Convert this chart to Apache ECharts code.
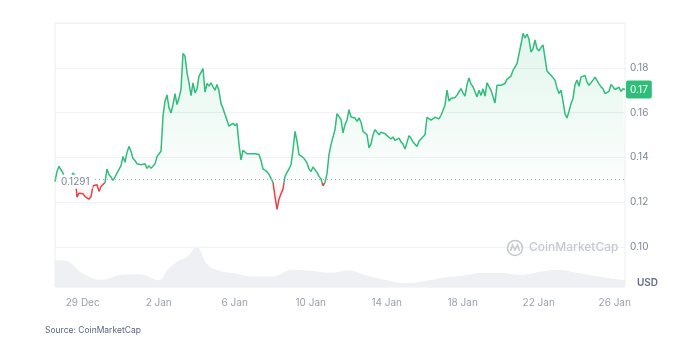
<!DOCTYPE html>
<html>
<head>
<meta charset="utf-8">
<script src="https://cdn.jsdelivr.net/npm/echarts@6/dist/echarts.min.js"></script>
<style>
  html, body { margin: 0; padding: 0; background: #fff; }
  #chart { width: 687px; height: 352px; }
</style>
</head>
<body>
<div id="chart"></div>
<script>
// price, one sample every ~2.5 hours from 27 Dec 13:00 to 26 Jan 13:00
var startDay = -1.458;   // days counted from 29 Dec 00:00
var spanDays = 30;
var prices = [
  0.1292,0.1337,0.1360,0.1357,0.1330,0.1300,0.1285,0.1290,0.1310,0.1330,
  0.1320,0.1222,0.1240,0.1243,0.1237,0.1225,0.1228,0.1213,0.1225,0.1273,
  0.1270,0.1278,0.1248,0.1270,0.1267,0.1288,0.1348,0.1322,0.1312,0.1297,
  0.1312,0.1330,0.1333,0.1363,0.1404,0.1378,0.1422,0.1449,0.1427,0.1395,
  0.1386,0.1371,0.1371,0.1367,0.1360,0.1371,0.1351,0.1363,0.1351,0.1360,
  0.1371,0.1404,0.1407,0.1427,0.1584,0.1651,0.1679,0.1621,0.1598,0.1636,
  0.1684,0.1636,0.1666,0.1703,0.1864,0.1852,0.1778,0.1733,0.1676,0.1733,
  0.1688,0.1706,0.1763,0.1763,0.1796,0.1691,0.1730,0.1718,0.1733,0.1715,
  0.1700,0.1725,0.1696,0.1640,0.1619,0.1591,0.1566,0.1539,0.1542,0.1552,
  0.1542,0.1551,0.1457,0.1389,0.1431,0.1425,0.1416,0.1412,0.1416,0.1410,
  0.1416,0.1422,0.1413,0.1386,0.1348,0.1345,0.1336,0.1324,0.1324,0.1288,
  0.1225,0.1168,0.1213,0.1237,0.1258,0.1315,0.1333,0.1348,0.1367,0.1434,
  0.1516,0.1472,0.1412,0.1412,0.1400,0.1389,0.1375,0.1348,0.1337,0.1357,
  0.1360,0.1333,0.1315,0.1303,0.1273,0.1288,0.1327,0.1412,0.1457,0.1491,
  0.1524,0.1595,0.1598,
  0.1569,0.1509,0.1546,0.1566,0.1613,0.1580,0.1584,0.1576,0.1561,0.1576,
  0.1557,0.1516,0.1521,0.1501,0.1442,0.1460,0.1500,0.1524,0.1516,0.1501,
  0.1512,0.1509,0.1506,0.1497,0.1491,0.1482,0.1491,0.1476,0.1482,0.1486,
  0.1469,0.1460,0.1437,0.1467,0.1497,0.1485,0.1469,0.1467,0.1449,0.1472,
  0.1482,0.1475,0.1501,0.1579,0.1576,0.1566,0.1573,0.1579,0.1575,0.1572,
  0.1588,0.1610,0.1633,0.1700,0.1651,0.1663,0.1657,0.1667,0.1678,0.1693,
  0.1707,0.1688,0.1673,0.1725,0.1754,0.1727,0.1715,0.1722,0.1670,0.1700,
  0.1676,0.1706,0.1673,0.1733,0.1731,0.1700,0.1695,0.1643,0.1722,0.1721,
  0.1722,0.1722,0.1730,0.1748,0.1745,0.1763,0.1788,0.1804,0.1819,0.1818,
  0.1905,0.1954,0.1933,0.1951,0.1927,0.1870,0.1885,0.1924,0.1885,0.1875,
  0.1890,0.1902,0.1897,0.1785,0.1781,0.1767,0.1760,0.1745,0.1710,0.1685,
  0.1700,0.1651,0.1594,0.1576,0.1606,0.1640,0.1663,0.1725,0.1745,0.1718,
  0.1758,0.1751,0.1766,0.1736,0.1722,0.1728,0.1745,0.1758,0.1763,0.1728,
  0.1715,0.1706,0.1685,0.1678,0.1695,0.1725,0.1715,0.1703,0.1710,0.1713,
  0.1695,0.1706,0.1703
];
var basePrice = 0.1291;
var lastPrice = 0.1703;

// traded volume (millions USD)
var volDays = [-1.458,-1,0,1,2,3,4,4.5,5,5.5,6,6.5,7,8,9,10,11,12,13,14,15,16,17,18,19,20,21,22,23,24,25,26,27,28,28.542];
var volumes = [70,71,36,19,32,34,18,48,68,80,106,64,46,36,28,28,46,43,38,44,30,18,10,15,25,30,37,37,32,40,45,38,29,21,18];

var xTickDays = [0,4,8,12,16,20,24,28];
var xTickLabels = ['29 Dec','2 Jan','6 Jan','10 Jan','14 Jan','18 Jan','22 Jan','26 Jan'];

var upColor = '#2fbd7c';
var downColor = '#e5424a';

var priceData = prices.map(function (p, i) {
  return [startDay + i * spanDays / (prices.length - 1), p];
});
var volData = volDays.map(function (d, i) { return [d, volumes[i]]; });

// green above the opening price, red below (gradient over the line's own box)
var pMax = Math.max.apply(null, prices);
var pMin = Math.min.apply(null, prices);
var split = (pMax - basePrice) / (pMax - pMin);

var myChart = echarts.init(document.getElementById('chart'));
var option = {
  backgroundColor: '#fff',
  animation: false,
  grid: {
    left: 55, right: 62, top: 23, bottom: 65,
    show: true, borderColor: '#eceef2', borderWidth: 1
  },
  xAxis: {
    type: 'value',
    min: startDay,
    max: startDay + spanDays,
    axisLine: { show: false },
    axisTick: { show: false },
    splitLine: { show: false },
    axisLabel: {
      customValues: xTickDays,
      formatter: function (v) { return xTickLabels[xTickDays.indexOf(v)]; },
      color: '#9aa1ae',
      fontSize: 10,
      fontFamily: 'Inter',
      margin: 11
    }
  },
  yAxis: [
    {
      type: 'value',
      position: 'right',
      min: 0.0821,
      max: 0.20,
      axisLine: { show: false },
      axisTick: { show: false },
      axisLabel: {
        showMinLabel: false,
        showMaxLabel: false,
        formatter: function (v) { return v.toFixed(2); },
        color: '#7e8796',
        fontSize: 10,
        fontFamily: 'Inter',
        margin: 5
      },
      splitLine: { showMinLine: false, lineStyle: { color: '#f0f2f5' } }
    },
    {
      type: 'value',
      min: 0,
      max: 701,
      show: false,
      splitLine: { show: false }
    }
  ],
  series: [
    {
      type: 'line',
      data: priceData,
      showSymbol: false,
      z: 3,
      lineStyle: {
        width: 1.5,
        color: new echarts.graphic.LinearGradient(0, 0, 0, 1, [
          { offset: 0, color: upColor },
          { offset: split, color: upColor },
          { offset: split, color: downColor },
          { offset: 1, color: downColor }
        ])
      },
      areaStyle: {
        origin: basePrice,
        color: new echarts.graphic.LinearGradient(0, 0, 0, 1, [
          { offset: 0, color: 'rgba(47,189,124,0.20)' },
          { offset: split, color: 'rgba(47,189,124,0.02)' },
          { offset: split, color: 'rgba(229,66,74,0.04)' },
          { offset: 1, color: 'rgba(229,66,74,0.14)' }
        ])
      },
      markLine: {
        silent: true,
        symbol: ['none', 'none'],
        animation: false,
        label: { show: false },
        data: [
          { yAxis: basePrice, lineStyle: { color: '#a9b0bc', type: [1, 3], width: 1 } }
        ]
      }
    },
    {
      type: 'line',
      yAxisIndex: 1,
      data: volData,
      smooth: 0.4,
      showSymbol: false,
      silent: true,
      z: 1,
      lineStyle: { width: 0 },
      itemStyle: { color: '#eef0f4' },
      areaStyle: { color: '#eef0f4', opacity: 1 }
    }
  ],
  graphic: [
    {
      id: 'logoRing',
      type: 'circle',
      shape: { cx: 515, cy: 248, r: 7.5 },
      style: { fill: 'none', stroke: '#c4c9d2', lineWidth: 1.6 },
      z: 10
    },
    {
      id: 'logoM',
      type: 'polyline',
      shape: { points: [[510.5, 251], [512.5, 245], [515, 250], [517.5, 245], [519.5, 251]] },
      style: { fill: 'none', stroke: '#c4c9d2', lineWidth: 1.6 },
      z: 10
    },
    {
      id: 'logoText',
      type: 'text',
      left: 529, top: 241,
      style: { text: 'CoinMarketCap', fill: '#c4c9d2', font: '500 12px Inter' },
      z: 10
    },
    {
      id: 'unit',
      type: 'text',
      left: 637, top: 278,
      style: { text: 'USD', fill: '#616e85', font: '600 10px Inter' }
    },
    {
      id: 'source',
      type: 'text',
      left: 45, top: 326,
      style: { text: 'Source: CoinMarketCap', fill: '#58667e', font: '8.5px Inter' }
    }
  ]
};
myChart.setOption(option);

// price tags: opening price on the left, latest price on the right axis
var baseY = myChart.convertToPixel({ yAxisIndex: 0 }, basePrice);
var lastY = myChart.convertToPixel({ yAxisIndex: 0 }, lastPrice);
myChart.setOption({
  graphic: [
    {
      id: 'baseTag',
      type: 'text',
      x: 58, y: baseY,
      z: 50,
      style: {
        text: '0.1291', fill: '#7e8796', font: '10px Inter',
        verticalAlign: 'middle', backgroundColor: '#fff', padding: [2, 3]
      }
    },
    {
      id: 'lastTag',
      type: 'text',
      x: 626, y: lastY,
      z: 50,
      style: {
        text: '0.17', fill: '#fff', font: '10px Inter',
        verticalAlign: 'middle', backgroundColor: upColor,
        borderRadius: 2, padding: [4, 4]
      }
    }
  ]
});
</script>
</body>
</html>
